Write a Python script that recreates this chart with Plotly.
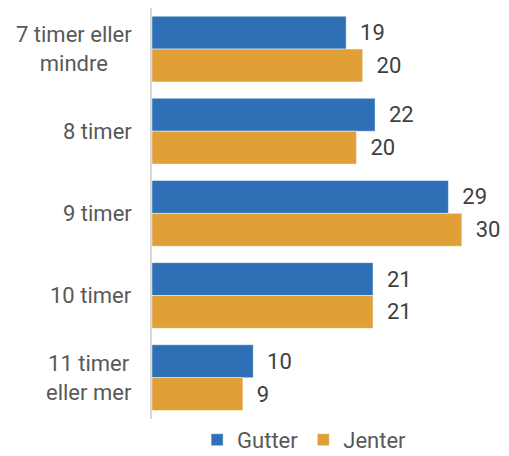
import plotly.graph_objects as go

categories = ["7 timer eller mindre", "8 timer", "9 timer", "10 timer", "11 timer eller mer"]
category_labels = ["7 timer eller<br>mindre", "8 timer", "9 timer", "10 timer", "11 timer<br>eller mer"]
gutter = [18.8, 21.6, 28.7, 21.4, 9.8]
jenter = [20.4, 19.8, 30.0, 21.4, 8.8]

BLUE = "#2E70B5"
ORANGE = "#E09F37"
FONT = "Roboto"
FS = 22

fig = go.Figure()
for name, vals, col in [("Gutter", gutter, BLUE), ("Jenter", jenter, ORANGE)]:
    fig.add_trace(go.Bar(
        name=name, y=categories, x=vals, orientation="h",
        marker=dict(color=col, line=dict(color="rgba(255,255,255,0.45)", width=1)),
        texttemplate="\u00a0\u00a0%{x:.0f}", textposition="outside",
        textfont=dict(family=FONT, size=FS, color="#404040"),
        cliponaxis=False, hoverinfo="skip",
    ))

for cat, lab in zip(categories, category_labels):
    fig.add_annotation(x=0, xref="paper", y=cat, yref="y", text=lab,
                       showarrow=False, xanchor="right", align="center",
                       xshift=-18, font=dict(family=FONT, size=FS, color="#595959"))

fig.update_layout(
    width=509, height=456,
    margin=dict(l=152, r=10, t=8, b=0, pad=0, autoexpand=False),
    plot_bgcolor="white", paper_bgcolor="white",
    barmode="group", bargap=0.2, bargroupgap=0,
    font=dict(family=FONT, size=FS, color="#595959"),
    showlegend=True,
    legend=dict(orientation="h", x=0.13, xanchor="left", y=-0.011, yanchor="bottom",
                font=dict(family=FONT, size=FS, color="#595959"),
                itemwidth=30, traceorder="normal", borderwidth=0),
)
fig.update_xaxes(range=[0, 33.6], showgrid=False, zeroline=False, showticklabels=False, showline=False)
fig.update_yaxes(autorange="reversed", domain=[37.3 / 448, 1], showgrid=False, zeroline=False,
                 showticklabels=False, showline=True, linecolor="#D9D9D9", linewidth=1.5, ticks="")

fig.write_html("out.html")
